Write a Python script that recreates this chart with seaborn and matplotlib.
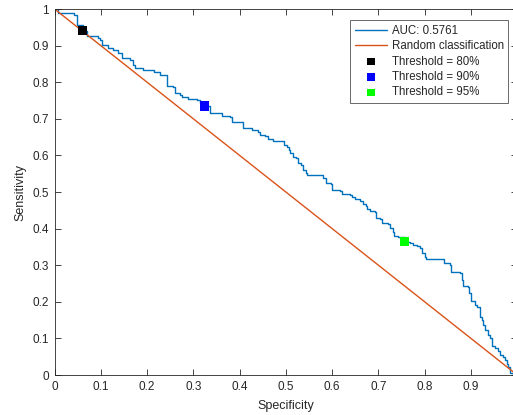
import numpy as np
import pandas as pd
import matplotlib
matplotlib.use("Agg")
import matplotlib.pyplot as plt
import seaborn as sns

# ROC curve (specificity vs sensitivity)
specificity = [0.000, 0.008, 0.042, 0.048, 0.061, 0.070, 0.095, 0.098, 0.102, 0.116,
               0.127, 0.138, 0.145, 0.163, 0.169, 0.174, 0.192, 0.214, 0.228, 0.244,
               0.257, 0.260, 0.271, 0.275, 0.289, 0.307, 0.314, 0.324, 0.335, 0.336,
               0.358, 0.361, 0.379, 0.383, 0.408, 0.426, 0.440, 0.444, 0.455, 0.462,
               0.473, 0.495, 0.503, 0.507, 0.510, 0.515, 0.523, 0.527, 0.532, 0.538,
               0.544, 0.545, 0.581, 0.587, 0.597, 0.599, 0.617, 0.621, 0.639, 0.643,
               0.650, 0.660, 0.666, 0.673, 0.676, 0.682, 0.693, 0.695, 0.703, 0.707,
               0.721, 0.725, 0.732, 0.734, 0.743, 0.757, 0.768, 0.775, 0.783, 0.790,
               0.794, 0.801, 0.803, 0.842, 0.855, 0.857, 0.876, 0.880, 0.882, 0.894,
               0.896, 0.900, 0.909, 0.914, 0.920, 0.923, 0.927, 0.930, 0.937, 0.941,
               0.945, 0.952, 0.959, 0.963, 0.970, 0.974, 0.977, 0.981, 0.984, 0.990]
sensitivity = [1.000, 0.988, 0.984, 0.956, 0.941, 0.926, 0.922, 0.915, 0.902, 0.893,
               0.888, 0.879, 0.865, 0.861, 0.847, 0.838, 0.832, 0.829, 0.820, 0.790,
               0.788, 0.770, 0.765, 0.759, 0.753, 0.751, 0.742, 0.735, 0.724, 0.717,
               0.715, 0.708, 0.706, 0.692, 0.674, 0.669, 0.665, 0.656, 0.653, 0.644,
               0.639, 0.628, 0.624, 0.615, 0.606, 0.595, 0.592, 0.578, 0.574, 0.560,
               0.551, 0.546, 0.537, 0.525, 0.522, 0.505, 0.504, 0.495, 0.492, 0.486,
               0.480, 0.476, 0.467, 0.462, 0.453, 0.449, 0.446, 0.428, 0.425, 0.416,
               0.413, 0.401, 0.392, 0.380, 0.376, 0.364, 0.360, 0.355, 0.352, 0.346,
               0.333, 0.323, 0.316, 0.305, 0.301, 0.282, 0.278, 0.260, 0.243, 0.241,
               0.223, 0.203, 0.191, 0.185, 0.159, 0.150, 0.137, 0.123, 0.109, 0.100,
               0.079, 0.073, 0.066, 0.055, 0.050, 0.041, 0.030, 0.023, 0.005, 0.000]

random_x = [0.0, 1.0]
random_y = [1.0, 0.0]

threshold_labels = ["Threshold = 80%", "Threshold = 90%", "Threshold = 95%"]
threshold_spec = [0.061, 0.324, 0.757]
threshold_sens = [0.941, 0.735, 0.364]
threshold_colors = ["#000000", "#0000FF", "#00FF00"]

auc_label = "AUC: 0.5761"
random_label = "Random classification"

x_ticks = [0, 0.1, 0.2, 0.3, 0.4, 0.5, 0.6, 0.7, 0.8, 0.9]
x_tick_labels = ["0", "0.1", "0.2", "0.3", "0.4", "0.5", "0.6", "0.7", "0.8", "0.9"]
y_ticks = [0, 0.1, 0.2, 0.3, 0.4, 0.5, 0.6, 0.7, 0.8, 0.9, 1]
y_tick_labels = ["0", "0.1", "0.2", "0.3", "0.4", "0.5", "0.6", "0.7", "0.8", "0.9", "1"]

sns.set_style("ticks")
plt.rcParams['font.family'] = ['Liberation Sans', 'DejaVu Sans']

fig = plt.figure(figsize=(5.13, 4.15), dpi=100)
ax = fig.add_axes([54.5 / 513, 40 / 415, 462.7 / 513, 366 / 415])

roc = pd.DataFrame({"Specificity": specificity, "Sensitivity": sensitivity})
sns.lineplot(data=roc, x="Specificity", y="Sensitivity", ax=ax, sort=False,
             estimator=None, color="#0072BD", linewidth=1.0,
             drawstyle="steps-post", label=auc_label)
rnd = pd.DataFrame({"x": random_x, "y": random_y})
sns.lineplot(data=rnd, x="x", y="y", ax=ax, sort=False, estimator=None,
             color="#D95319", linewidth=1.0, label=random_label)
for lab, sx, sy, c in zip(threshold_labels, threshold_spec, threshold_sens, threshold_colors):
    sns.scatterplot(x=[sx], y=[sy], ax=ax, marker="s", s=45, color=c,
                    edgecolor="none", label=lab, zorder=5)

ax.set_xlim(0, 1)
ax.set_ylim(0, 1)
ax.set_xticks(x_ticks)
ax.set_xticklabels(x_tick_labels)
ax.set_yticks(y_ticks)
ax.set_yticklabels(y_tick_labels)
ax.tick_params(direction="in", length=4, width=0.6, top=True, right=True,
               labelsize=8.5, colors="#262626", pad=4)
for sp in ax.spines.values():
    sp.set_color("#262626")
    sp.set_linewidth(0.6)
ax.set_xlabel("Specificity", fontsize=9, color="#262626", labelpad=5)
ax.set_ylabel("Sensitivity", fontsize=9, color="#262626", labelpad=4)

leg = ax.legend(loc="upper right", bbox_to_anchor=(0.981, 0.97), fontsize=8.3,
                frameon=True, fancybox=False, edgecolor="#262626",
                handlelength=2.8, borderpad=0.4, labelspacing=0.3,
                handletextpad=0.4, borderaxespad=0, markerscale=0.8)
leg.get_frame().set_linewidth(0.6)

fig.savefig("out.png", dpi=100)
